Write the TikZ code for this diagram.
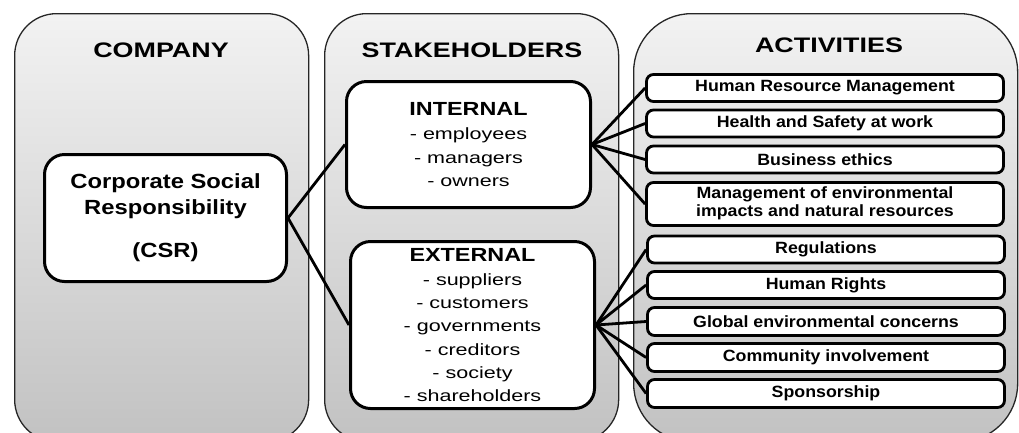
\documentclass[tikz,border=0pt]{standalone}
\usepackage{fontspec}
\setmainfont{Liberation Sans}
\newfontfamily\ftitle[FakeStretch=1.28]{Liberation Sans}
\newfontfamily\fcsr[FakeStretch=1.16]{Liberation Sans}
\newfontfamily\fhead[FakeStretch=1.23]{Liberation Sans}
\newfontfamily\flist[FakeStretch=1.32]{Liberation Sans}
\newfontfamily\fact[FakeStretch=1.09]{Liberation Sans}
\tikzset{
  panel/.style={draw=black!85, line width=1.3, top color=gray!10, bottom color=gray!48,
    rounded corners=42pt, anchor=north west, inner sep=0pt},
  ptitle/.style={font=\ftitle\bfseries\fontsize{21}{25}\selectfont, inner sep=0pt},
  rbox/.style={draw=black, line width=3pt, fill=white, rounded corners=20pt, inner sep=0pt},
  listtext/.style={align=center, font=\flist\fontsize{16.3}{23.3}\selectfont},
  actbox/.style={draw=black, line width=2.8pt, fill=white, rounded corners=7pt, inner sep=0pt,
    minimum width=357pt, align=center, font=\fact\bfseries\fontsize{16.3}{19}\selectfont},
  conn/.style={draw=black, line width=2.8pt},
}
\newcommand{\hd}[1]{{\fhead\bfseries\fontsize{19}{23.3}\selectfont #1}}
\begin{document}
\begin{tikzpicture}[x=1pt,y=-1pt]
\useasboundingbox (0,0) rectangle (1019,432);
\clip (0,0) rectangle (1019,432);
% panels
\node[panel, minimum width=294pt, minimum height=428pt] (pcomp) at (14,13) {};
\node[panel, minimum width=294pt, minimum height=428pt] (pstake) at (324,13) {};
\node[panel, minimum width=384pt, minimum height=428pt, rounded corners=58pt] (pact) at (633,13) {};
% titles
\node[ptitle] (tcomp) at (161,50) {COMPANY};
\node[ptitle] (tstake) at (472,50) {STAKEHOLDERS};
\node[ptitle] (tact) at (829,45) {ACTIVITIES};
% CSR
\node[rbox, minimum width=242pt, minimum height=127pt, align=center,
  font=\fcsr\bfseries\fontsize{20.5}{26}\selectfont] (csr) at (165.5,218)
  {Corporate Social\\Responsibility\\[17pt](CSR)};
% internal / external
\node[rbox, minimum width=244pt, minimum height=126pt, listtext] (int) at (468.5,144.5)
  {\hd{INTERNAL}\\[1pt]
   - employees\\
   - managers\\
   - owners};
\node[rbox, minimum width=244pt, minimum height=167pt, listtext] (ext) at (472.5,325)
  {\hd{EXTERNAL}\\[1pt]
   - suppliers\\
   - customers\\
   - governments\\
   - creditors\\
   - society\\
   - shareholders};
% activities
\node[actbox, minimum height=27pt] (a1) at (825,88) {Human Resource Management};
\node[actbox, minimum height=27pt] (a2) at (825,123.5) {Health and Safety at work};
\node[actbox, minimum height=27pt] (a3) at (825,159.5) {Business ethics};
\node[actbox, minimum height=43pt] (a4) at (825,204) {\raisebox{-4pt}{\begin{tabular}{@{}c@{}}Management of environmental\\[-1pt]impacts and natural resources\end{tabular}}};
\node[actbox, minimum height=27pt] (a5) at (826,249.5) {Regulations};
\node[actbox, minimum height=27pt] (a6) at (826,285) {Human Rights};
\node[actbox, minimum height=28pt] (a7) at (826,321.5) {Global environmental concerns};
\node[actbox, minimum height=28pt] (a8) at (826,357.5) {Community involvement};
\node[actbox, minimum height=28pt] (a9) at (826,393.5) {Sponsorship};
% connectors
\draw[conn] (csr.east) -- (int.west);
\draw[conn] (csr.east) -- (ext.west);
\foreach \k in {a1,a2,a3,a4} \draw[conn] (int.east) -- (\k.west);
\foreach \k in {a5,a6,a7,a8,a9} \draw[conn] (ext.east) -- (\k.west);
\end{tikzpicture}
\end{document}
